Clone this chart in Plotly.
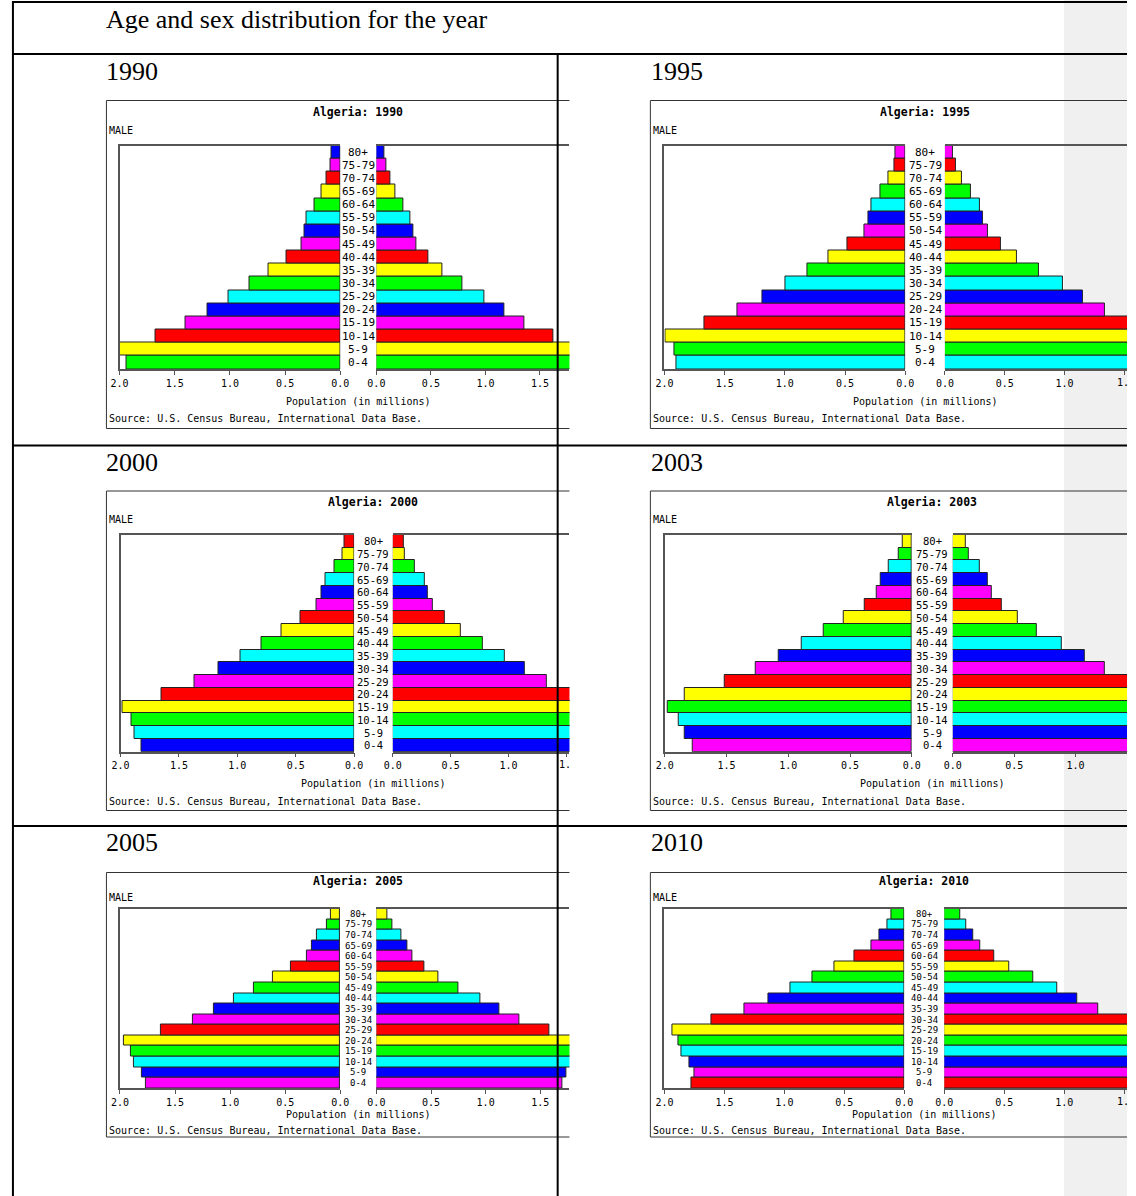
import plotly.graph_objects as go

# ---------------- data ----------------
AGE_GROUPS = ['0-4', '5-9', '10-14', '15-19', '20-24', '25-29', '30-34', '35-39',
              '40-44', '45-49', '50-54', '55-59', '60-64', '65-69', '70-74', '75-79', '80+']
YEARS = [1990, 1995, 2000, 2003, 2005, 2010]
PAGE_TITLE = 'Age and sex distribution for the year'
TICK_VALUES = [0.0, 0.5, 1.0, 1.5, 2.0]

MALE_1990 = [1.938, 1.997, 1.670, 1.406, 1.207, 1.013, 0.823, 0.651, 0.484, 0.351, 0.321, 0.303, 0.238, 0.172, 0.128, 0.089, 0.083]
FEMALE_1990 = [1.870, 1.930, 1.622, 1.354, 1.171, 0.994, 0.793, 0.607, 0.477, 0.369, 0.342, 0.315, 0.249, 0.174, 0.129, 0.093, 0.075]
MALE_1995 = [1.899, 1.918, 1.995, 1.665, 1.390, 1.188, 0.997, 0.812, 0.638, 0.477, 0.338, 0.302, 0.283, 0.210, 0.136, 0.090, 0.082]
FEMALE_1995 = [1.850, 1.870, 1.950, 1.630, 1.338, 1.154, 0.986, 0.786, 0.599, 0.470, 0.360, 0.321, 0.294, 0.220, 0.143, 0.091, 0.071]
MALE_2000 = [1.817, 1.879, 1.907, 1.980, 1.652, 1.368, 1.160, 0.975, 0.795, 0.618, 0.463, 0.326, 0.281, 0.244, 0.171, 0.098, 0.079]
FEMALE_2000 = [1.760, 1.830, 1.860, 1.940, 1.620, 1.330, 1.145, 0.969, 0.776, 0.591, 0.452, 0.349, 0.304, 0.276, 0.193, 0.108, 0.091]
MALE_2003 = [1.772, 1.835, 1.888, 1.973, 1.835, 1.514, 1.267, 1.078, 0.892, 0.709, 0.552, 0.380, 0.287, 0.252, 0.189, 0.104, 0.077]
FEMALE_2003 = [1.730, 1.800, 1.850, 1.930, 1.800, 1.480, 1.238, 1.072, 0.885, 0.682, 0.527, 0.398, 0.316, 0.289, 0.222, 0.131, 0.102]
MALE_2005 = [1.762, 1.801, 1.872, 1.899, 1.964, 1.628, 1.342, 1.143, 0.967, 0.786, 0.610, 0.449, 0.301, 0.259, 0.211, 0.119, 0.089]
FEMALE_2005 = [1.700, 1.742, 1.840, 1.870, 1.930, 1.583, 1.306, 1.123, 0.955, 0.754, 0.571, 0.441, 0.330, 0.285, 0.228, 0.144, 0.099]
MALE_2010 = [1.778, 1.751, 1.789, 1.860, 1.880, 1.932, 1.609, 1.332, 1.130, 0.947, 0.766, 0.583, 0.419, 0.271, 0.208, 0.142, 0.107]
FEMALE_2010 = [1.740, 1.720, 1.760, 1.830, 1.850, 1.880, 1.570, 1.284, 1.104, 0.937, 0.738, 0.544, 0.418, 0.298, 0.243, 0.180, 0.134]

MALE = [MALE_1990, MALE_1995, MALE_2000, MALE_2003, MALE_2005, MALE_2010]
FEMALE = [FEMALE_1990, FEMALE_1995, FEMALE_2000, FEMALE_2003, FEMALE_2005, FEMALE_2010]

# ---------------- style / layout geometry (pixels) ----------------
W, H = 1136, 1196
CYCLE = ['#00ff00', '#ffff00', '#ff0000', '#ff00ff', '#0000ff', '#00ffff']
COLOR_OFFSET = [0, 5, 4, 3, 3, 2]

ROWS = [  # box_top, box_bottom, plot_top, plot_bottom, title_y, male_y, pop_y, src_y, year_y, age font
    dict(bt=100.5, bb=428.5, pt=145.5, pb=369.0, ty=112, my=130, popy=401, sy=419, yy=72, af=11),
    dict(bt=491.0, bb=810.5, pt=535.0, pb=751.7, ty=502, my=520, popy=783, sy=801, yy=462, af=10.5),
    dict(bt=872.5, bb=1137.0, pt=908.5, pb=1088.3, ty=881, my=897, popy=1114, sy=1130, yy=842, af=9),
]
CHARTS = [  # box_left, clip, male 2.0 x, male 0 x, female 0 x, female px per unit
    dict(bl=99.0, clip=569.5, m2=112.3, m0=336.7, f0=373.3, fu=110.8),
    dict(bl=651.7, clip=1136.0, m2=666.0, m0=910.7, f0=951.0, fu=121.5),
    dict(bl=99.0, clip=569.5, m2=113.3, m0=350.7, f0=390.0, fu=117.5),
    dict(bl=651.7, clip=1136.0, m2=666.3, m0=917.3, f0=959.0, fu=124.7),
    dict(bl=99.0, clip=569.5, m2=112.7, m0=336.7, f0=373.3, fu=111.0),
    dict(bl=651.7, clip=1136.0, m2=666.0, m0=909.7, f0=950.3, fu=122.0),
]
YEAR_X = [97, 650]

MONO = 'DejaVu Sans Mono'
SERIF = 'Liberation Serif'
FRAME = '#555555'
TICK_FONT = 10
CHAR_W = 0.602 * TICK_FONT


def px(x):
    return x / W


def py(y):
    return 1 - y / H


def ax_name(n, kind):
    return kind if n == 1 else f'{kind}{n}'


def ax_key(n, kind):
    return f'{kind}axis' if n == 1 else f'{kind}axis{n}'


fig = go.Figure()
layout = {}
annotations = []
shapes = []

# page background strip
shapes.append(dict(type='rect', xref='paper', yref='paper', x0=px(1072), x1=1, y0=0, y1=1,
                   fillcolor='#f0f0f0', line=dict(width=0), layer='below'))

for k, year in enumerate(YEARS):
    c = CHARTS[k]
    r = ROWS[k // 2]
    nm, nf = 2 * k + 1, 2 * k + 2
    colors = [CYCLE[(i + COLOR_OFFSET[k]) % 6] for i in range(len(AGE_GROUPS))]

    fig.add_trace(go.Bar(x=MALE[k], y=AGE_GROUPS, orientation='h',
                         xaxis=ax_name(nm, 'x'), yaxis=ax_name(nm, 'y'),
                         marker=dict(color=colors, line=dict(color='#222222', width=1)),
                         showlegend=False, hoverinfo='skip'))
    fig.add_trace(go.Bar(x=FEMALE[k], y=AGE_GROUPS, orientation='h',
                         xaxis=ax_name(nf, 'x'), yaxis=ax_name(nf, 'y'),
                         marker=dict(color=colors, line=dict(color='#222222', width=1)),
                         showlegend=False, hoverinfo='skip'))

    ydom = [py(r['pb']), py(r['pt'])]
    xcommon = dict(showline=True, linecolor=FRAME, linewidth=1.5, mirror=True,
                   ticks='outside', ticklen=4, tickcolor=FRAME, tickwidth=1,
                   showgrid=False, zeroline=False,
                   tickfont=dict(family=MONO, size=TICK_FONT, color='#000000'), fixedrange=True)
    layout[ax_key(nm, 'x')] = dict(xcommon, domain=[px(c['m2']), px(c['m0'])], range=[2.0, 0.0],
                                   tickvals=TICK_VALUES, ticktext=[f'{v:.1f}' for v in TICK_VALUES],
                                   anchor=ax_name(nm, 'y'))
    frange = (c['clip'] - c['f0']) / c['fu']
    f_vals, f_text = [], []
    for v in TICK_VALUES:
        if v > frange:
            continue
        lab = f'{v:.1f}'
        tx = c['f0'] + v * c['fu']
        left = tx - len(lab) * CHAR_W / 2
        if left + len(lab) * CHAR_W > c['clip']:
            # label cut at the image edge: keep only the visible part
            n_vis = int((c['clip'] - left) / CHAR_W + 0.2)
            annotations.append(dict(text=lab[:n_vis], xref='paper', yref='paper', x=px(left),
                                    y=py(r['pb'] + 13), xanchor='left', yanchor='middle',
                                    showarrow=False, font=dict(family=MONO, size=TICK_FONT, color='#000000')))
            lab = ''
        f_vals.append(v)
        f_text.append(lab)
    layout[ax_key(nf, 'x')] = dict(xcommon, domain=[px(c['f0']), px(c['clip'])], range=[0.0, frange],
                                   tickvals=f_vals, ticktext=f_text, anchor=ax_name(nf, 'y'))
    layout[ax_key(nm, 'y')] = dict(domain=ydom, type='category', range=[-0.5, len(AGE_GROUPS) - 0.5],
                                   showline=True, linecolor=FRAME, linewidth=1.5, showticklabels=False,
                                   ticks='', showgrid=False, zeroline=False, anchor=ax_name(nm, 'x'),
                                   fixedrange=True)
    layout[ax_key(nf, 'y')] = dict(domain=ydom, type='category', range=[-0.5, len(AGE_GROUPS) - 0.5],
                                   showline=False, showticklabels=False, ticks='', showgrid=False,
                                   zeroline=False, anchor=ax_name(nf, 'x'), fixedrange=True)

    gap_c = (c['m0'] + c['f0']) / 2
    for i, g in enumerate(AGE_GROUPS):
        annotations.append(dict(text=g, xref='paper', yref=ax_name(nm, 'y'), x=px(gap_c), y=i,
                                xanchor='center', yanchor='middle', showarrow=False, borderpad=0,
                                font=dict(family=MONO, size=r['af'], color='#000000')))
    annotations.append(dict(text=f'<b>Algeria: {year}</b>', xref='paper', yref='paper',
                            x=px(gap_c), y=py(r['ty']), xanchor='center', yanchor='middle',
                            showarrow=False, font=dict(family=MONO, size=11.5, color='#000000')))
    annotations.append(dict(text='MALE', xref='paper', yref='paper', x=px(c['bl'] + 1), y=py(r['my']),
                            xanchor='left', yanchor='middle', showarrow=False,
                            font=dict(family=MONO, size=10, color='#000000')))
    annotations.append(dict(text='Population (in millions)', xref='paper', yref='paper',
                            x=px(gap_c), y=py(r['popy']), xanchor='center', yanchor='middle',
                            showarrow=False, font=dict(family=MONO, size=10, color='#000000')))
    annotations.append(dict(text='Source: U.S. Census Bureau, International Data Base.',
                            xref='paper', yref='paper', x=px(c['bl'] + 1), y=py(r['sy']),
                            xanchor='left', yanchor='middle', showarrow=False,
                            font=dict(family=MONO, size=10, color='#000000')))
    # table cell year label
    annotations.append(dict(text=str(year), xref='paper', yref='paper', x=px(YEAR_X[k % 2]),
                            y=py(r['yy']), xanchor='left', yanchor='middle', showarrow=False,
                            font=dict(family=SERIF, size=26, color='#000000')))

    # chart image border (top, left, bottom)
    xr = min(c['clip'], W)
    for (x0, y0, x1, y1) in [(c['bl'], r['bt'], xr, r['bt']), (c['bl'], r['bt'], c['bl'], r['bb']),
                             (c['bl'], r['bb'], xr, r['bb'])]:
        shapes.append(dict(type='line', xref='paper', yref='paper', x0=px(x0), x1=px(x1),
                           y0=py(y0), y1=py(y1), line=dict(color='#333333', width=1), layer='above'))

annotations.append(dict(text=PAGE_TITLE, xref='paper', yref='paper', x=px(97), y=py(19.5),
                        xanchor='left', yanchor='middle', showarrow=False,
                        font=dict(family=SERIF, size=26, color='#000000')))

# table grid lines
TABLE = '#000000'
for (x0, y0, x1, y1, w) in [(4, 2, W, 2, 2), (4, 1, 4, H, 2), (4, 54, W, 54, 2),
                            (557.5, 54, 557.5, H, 2), (4, 445.5, W, 445.5, 2.2),
                            (4, 826, W, 826, 2.2)]:
    shapes.append(dict(type='line', xref='paper', yref='paper', x0=px(x0), x1=px(x1),
                       y0=py(y0), y1=py(y1), line=dict(color=TABLE, width=w), layer='above'))

fig.update_layout(layout)
fig.update_layout(width=W, height=H, autosize=False, margin=dict(l=0, r=0, t=0, b=0, pad=0),
                  paper_bgcolor='#ffffff', plot_bgcolor='rgba(0,0,0,0)', bargap=0,
                  annotations=annotations, shapes=shapes, showlegend=False)

fig.write_html('out.html', post_script="document.body.style.margin='0';",
               config={'displayModeBar': False})
